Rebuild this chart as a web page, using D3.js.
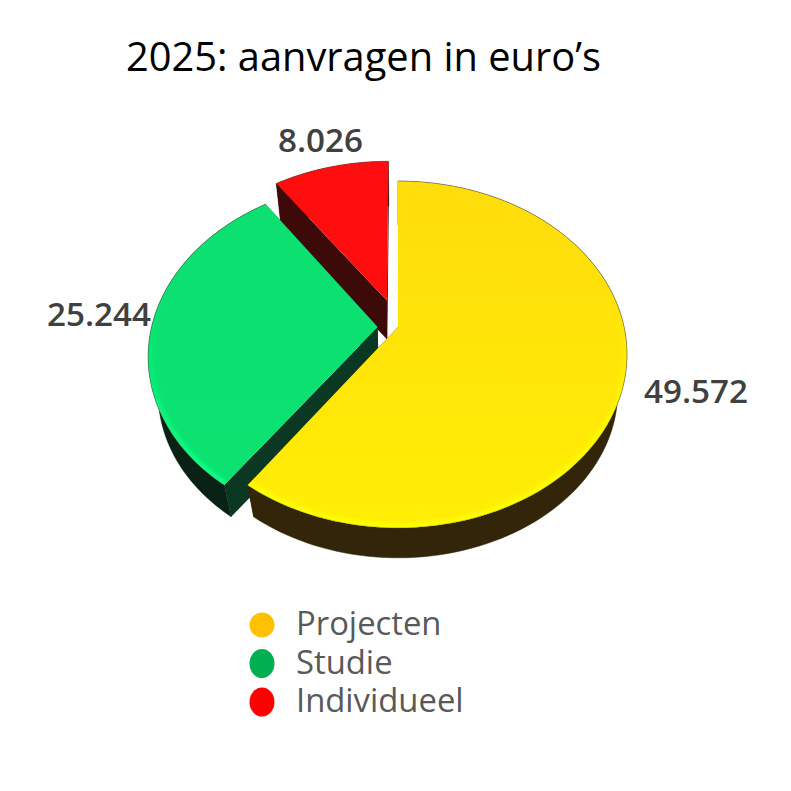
<!DOCTYPE html>
<html>
<head>
<meta charset="utf-8">
<script src="https://cdn.jsdelivr.net/npm/d3@7"></script>
<style>
  html, body { margin: 0; background: #fff; }
  svg { display: block; }
  text { font-family: "Open Sans", sans-serif; }
</style>
</head>
<body>
<svg></svg>
<script>
const width = 791, height = 791;

const categories = ["Projecten", "Studie", "Individueel"];
const values = [49572, 25244, 8026];
const valueLabels = ["49.572", "25.244", "8.026"];
const explode = [0, 0.09, 0.168];

const legendColors = ["#ffc000", "#00b050", "#ff0000"];
const topColors = [["#ffdc0c", "#ffee04"], ["#0be070", "#0be270"], ["#ff0d0f", "#ff0d0f"]];
const rimColors = ["#ffff00", "#0cff84", "#ff0d0f"];
const sideColors = ["#33250a", "#0a2216", "#3d0a0a"];
const cutColors = ["#33250a", "#0a3822", "#3d0a0a"];

// perspective of the disc: d is the camera distance, apex sits at (cx, cy)
const cx = 398, cy = 327, d = 6.31, R = 226, H = 169;
// the lower plane is the top plane shrunk towards a far vanishing point
const vanishY = 1278, lowerScale = 0.96;

const sx = d3.scaleLinear().domain([-1, 1]).range([cx - R, cx + R]);
const sy = d3.scaleLinear().domain([-1, 1]).range([cy - H, cy + H]);

function project(wx, wz) {
    const s = d / (d - wz);
    return [sx(wx * s), sy(wz * s)];
}

function lower(p) {
    return [cx + (p[0] - cx) * lowerScale, vanishY + (p[1] - vanishY) * lowerScale];
}

const svg = d3.select("svg")
    .attr("width", width)
    .attr("height", height)
    .attr("viewBox", [0, 0, width, height]);

const defs = svg.append("defs");
defs.append("filter").attr("id", "soft")
    .attr("filterUnits", "userSpaceOnUse")
    .attr("x", 0).attr("y", 0).attr("width", width).attr("height", height)
    .append("feGaussianBlur").attr("stdDeviation", 2.2);

const slices = d3.pie().sort(null)(values).map((a, i) => {
    const mid = (a.startAngle + a.endAngle) / 2;
    const ox = Math.sin(mid) * explode[i], oz = -Math.cos(mid) * explode[i];
    const point = t => project(ox + Math.sin(t), oz - Math.cos(t));
    const steps = d3.range(0, 121).map(k => a.startAngle + (a.endAngle - a.startAngle) * k / 120);
    return {
        i,
        apex: project(ox, oz),
        rim: steps.map(point)
    };
});

const line = d3.line();

// back to front: red, green, yellow
const ordered = [slices[2], slices[1], slices[0]];

const pie = svg.append("g");

ordered.forEach(s => {
    const g = pie.append("g");
    const first = s.rim[0], last = s.rim[s.rim.length - 1];

    // cut faces
    [first, last].forEach(p => {
        g.append("path")
            .attr("d", line([s.apex, p, lower(p), lower(s.apex)]) + "Z")
            .attr("fill", cutColors[s.i]);
    });

    // outer wall
    g.append("path")
        .attr("d", line(s.rim.concat(s.rim.map(lower).reverse())) + "Z")
        .attr("fill", sideColors[s.i])
        .attr("stroke", sideColors[s.i])
        .attr("stroke-width", 0.5);

    // top face
    const outline = line([s.apex].concat(s.rim)) + "Z";
    const ys = s.rim.map(p => p[1]);
    const gradId = "top" + s.i;
    const grad = defs.append("linearGradient").attr("id", gradId)
        .attr("gradientUnits", "userSpaceOnUse")
        .attr("x1", 0).attr("x2", 0)
        .attr("y1", d3.min(ys)).attr("y2", d3.max(ys));
    grad.append("stop").attr("offset", 0).attr("stop-color", topColors[s.i][0]);
    grad.append("stop").attr("offset", 1).attr("stop-color", topColors[s.i][1]);

    g.append("path").attr("d", outline).attr("fill", `url(#${gradId})`);

    // soft lighter bevel along the rim, fading out towards the back of the pie
    const bevel = defs.append("linearGradient").attr("id", "bevel" + s.i)
        .attr("gradientUnits", "userSpaceOnUse")
        .attr("x1", 0).attr("x2", 0)
        .attr("y1", 300).attr("y2", 480);
    bevel.append("stop").attr("offset", 0).attr("stop-color", rimColors[s.i]).attr("stop-opacity", 0);
    bevel.append("stop").attr("offset", 1).attr("stop-color", rimColors[s.i]).attr("stop-opacity", 1);

    defs.append("clipPath").attr("id", "clip" + s.i).append("path").attr("d", outline);
    g.append("g").attr("clip-path", `url(#clip${s.i})`)
        .append("path")
        .attr("d", line(s.rim))
        .attr("fill", "none")
        .attr("stroke", `url(#bevel${s.i})`)
        .attr("stroke-width", 9)
        .attr("filter", "url(#soft)");

    // thin dark edge
    g.append("path")
        .attr("d", line(s.rim))
        .attr("fill", "none")
        .attr("stroke", "#5a5a4a")
        .attr("stroke-opacity", 0.4)
        .attr("stroke-width", 0.8);
});

// title
svg.append("text")
    .attr("x", 126).attr("y", 71)
    .attr("font-size", 39.8)
    .attr("fill", "#000")
    .text("2025: aanvragen in euro\u2019s");

// value labels
const labelX = [644, 47, 278], labelY = [403, 326, 152];
svg.append("g").selectAll("text")
    .data(valueLabels)
    .join("text")
    .attr("x", (t, i) => labelX[i])
    .attr("y", (t, i) => labelY[i])
    .attr("font-size", 33.2)
    .attr("font-weight", 600)
    .attr("fill", "#404040")
    .text(t => t);

// legend
const legendY = d3.scalePoint().domain(categories).range([625, 702]);
const legend = svg.append("g").selectAll("g")
    .data(categories)
    .join("g")
    .attr("transform", c => `translate(0,${legendY(c)})`);

legend.append("ellipse")
    .attr("cx", 262)
    .attr("rx", 12.5)
    .attr("ry", (c, i) => i === 0 ? 12.5 : 14.5)
    .attr("fill", (c, i) => legendColors[i]);

legend.append("text")
    .attr("x", 296)
    .attr("y", 10)
    .attr("font-size", 32.8)
    .attr("fill", "#595959")
    .text(c => c);
</script>
</body>
</html>
